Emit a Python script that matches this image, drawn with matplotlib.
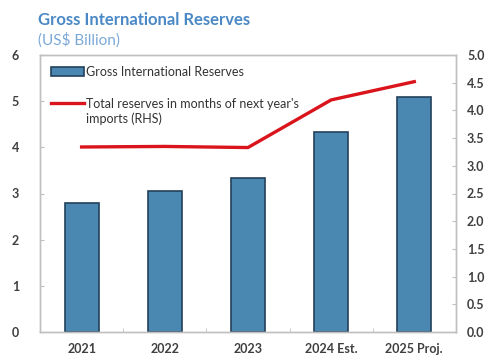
import matplotlib.pyplot as plt
import numpy as np
from matplotlib.patches import Patch
from matplotlib.lines import Line2D

years = ["2021", "2022", "2023", "2024 Est.", "2025 Proj."]
reserves_bn = [2.80, 3.05, 3.33, 4.34, 5.09]        # US$ billion (LHS)
months_imports = [3.34, 3.35, 3.33, 4.19, 4.52]     # months of next year's imports (RHS)

BAR_COLOR = "#4a88b2"
BAR_EDGE = "#23415a"
LINE_COLOR = "#d9141b"
SPINE = "#c0c0c0"
TICK_TXT = "#3f3f3f"
TITLE_BLUE = "#4b89c6"

plt.rcParams["font.family"] = ["Lato", "DejaVu Sans"]

fig = plt.figure(figsize=(4.91, 3.6), dpi=100)
ax = fig.add_axes([0.0815, 0.078, 0.847, 0.769])
ax2 = ax.twinx()

x = np.arange(len(years))
ax.bar(x, reserves_bn, width=0.41, color=BAR_COLOR, edgecolor=BAR_EDGE,
       linewidth=1.2, zorder=2)
ax2.plot(x, months_imports, color=LINE_COLOR, linewidth=2.4, zorder=3)

ax.set_xlim(-0.5, 4.5)
ax.set_ylim(0, 6)
ax2.set_ylim(0, 5)
ax.set_yticks(range(0, 7))
ax2.set_yticks(np.arange(0, 5.01, 0.5))
ax2.set_yticklabels([f"{v:.1f}" for v in np.arange(0, 5.01, 0.5)])

ax.set_xticks(x)
ax.set_xticklabels(years)
ax.set_xticks(np.arange(-0.5, 4.6, 1.0), minor=True)
ax.tick_params(axis="x", which="major", length=0, pad=8)
ax.tick_params(axis="x", which="minor", direction="in", length=3, color=SPINE)
ax.tick_params(axis="y", direction="in", length=3, color=SPINE, pad=15)
ax2.tick_params(axis="y", direction="in", length=3, color=SPINE, pad=8)

for a in (ax, ax2):
    for s in a.spines.values():
        s.set_color(SPINE)
        s.set_linewidth(1.0)
    for lab in a.get_xticklabels() + a.get_yticklabels():
        lab.set_color(TICK_TXT)
        lab.set_fontsize(9)
        lab.set_fontweight("bold")

# legend: second label wraps, keep its handle on the first line
handles = [
    Patch(facecolor=BAR_COLOR, edgecolor=BAR_EDGE, linewidth=1.2),
    Line2D([0], [0], color=LINE_COLOR, linewidth=2.4),
]
labels = ["Gross International Reserves",
          "Total reserves in months of next year's"]
leg = ax.legend(handles, labels, loc="upper left", bbox_to_anchor=(0.0, 1.0),
                frameon=False, fontsize=9, handlelength=2.7, handletextpad=0.12,
                labelspacing=1.6, borderaxespad=0.45)
for t in leg.get_texts():
    t.set_color("#333333")

fig.canvas.draw()
bb = leg.get_texts()[1].get_window_extent()
x0, y0 = fig.transFigure.inverted().transform((bb.x0, bb.y0))
fig.text(x0, y0 - 0.008, "imports (RHS)", color="#333333", fontsize=9,
         va="top", ha="left")

fig.text(0.077, 0.945, "Gross International Reserves", color=TITLE_BLUE,
         fontsize=12, fontweight="bold", va="center")
fig.text(0.077, 0.888, "(US$ Billion)", color="#7aa9d8", fontsize=11, va="center")

fig.savefig("out.png", dpi=100)
